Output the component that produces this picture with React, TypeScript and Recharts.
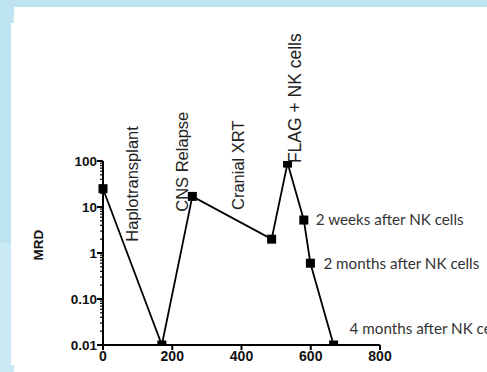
import { LineChart, Line, XAxis, YAxis, ReferenceDot, LabelList } from 'recharts';

// days since start vs. MRD (%)
const days = [0, 170, 258, 487, 533, 580, 599, 666];
const mrd = [25, 0.01, 17, 2, 90, 5.2, 0.6, 0.01];
const notes = ['', '', '', '', '', '2 weeks after NK cells', '2 months after NK cells', '4 months after NK cells'];

// treatment events, written vertically
const eventNames = ['Haplotransplant', 'CNS Relapse', 'Cranial XRT', 'FLAG + NK cells'];
const eventDays = [83, 227, 390, 555];
const eventMrd = [1.76, 7.9, 8.6, 90];

const xTicks = [0, 200, 400, 600, 800];
const yMajor = [0.01, 0.1, 1, 10, 100];
const yMajorLabels = ['0.01', '0.10', '1', '10', '100'];

const yTicks: number[] = [];
yMajor.forEach((m, i) => {
  yTicks.push(m);
  if (i < yMajor.length - 1) {
    for (let k = 2; k <= 9; k++) yTicks.push(+(m * k).toPrecision(3));
  }
});

const data = days.map((d, i) => ({ day: d, mrd: mrd[i], note: notes[i] }));

const axisFont = '"Liberation Sans", Arial, sans-serif';

const YTick = (props: any) => {
  const { x, y, payload } = props;
  const idx = yMajor.findIndex((m) => Math.abs(m - payload.value) < 1e-9);
  const major = idx >= 0;
  return (
    <g>
      <line x1={x} x2={x - (major ? 6 : 3)} y1={y} y2={y} stroke="#000" strokeWidth={major ? 2 : 1.2} />
      {major && (
        <text x={x - 6} y={y} dy="0.36em" textAnchor="end" fontFamily={axisFont} fontWeight="bold" fontSize={13.5} fill="#111">
          {yMajorLabels[idx]}
        </text>
      )}
    </g>
  );
};

const SquareDot = (props: any) => {
  const { cx, cy } = props;
  if (cx == null || cy == null) return null;
  return <rect x={cx - 4.5} y={cy - 4.5} width={9} height={9} fill="#000" />;
};

const noteOffset = [
  { dx: 12, dy: 0 },
  { dx: 12, dy: 0 },
  { dx: 12, dy: 0 },
  { dx: 12, dy: 0 },
  { dx: 12, dy: 0 },
  { dx: 12, dy: 0 },
  { dx: 13, dy: 0 },
  { dx: 16, dy: -16 },
];

const NoteLabel = (props: any) => {
  const { x, y, value, index } = props;
  if (!value) return null;
  const o = noteOffset[index];
  return (
    <text x={x + o.dx} y={y + o.dy} dy="0.35em" fontFamily="Lato, 'Open Sans', sans-serif" fontSize={15.2} fill="#333">
      {value}
    </text>
  );
};

const eventLabel = (text: string) => (props: any) => {
  const vb = props.viewBox || {};
  const cx = vb.x + (vb.width || 0) / 2;
  const cy = vb.y + (vb.height || 0) / 2;
  return (
    <text
      x={cx}
      y={cy}
      dy="0.36em"
      transform={`rotate(-90 ${cx} ${cy})`}
      textAnchor="start"
      fontFamily={axisFont}
      fontSize={text.startsWith('FLAG') ? 17.5 : 16.5}
      fill="#222"
    >
      {text}
    </text>
  );
};

export default function App() {
  return (
    <div style={{ position: 'absolute', left: 0, top: 0, width: 487, height: 372, background: '#BEE3F1', overflow: 'hidden' }}>
      <div style={{ position: 'absolute', left: 0, top: 243, width: 14, height: 129, background: '#C9EAF5' }} />
      <div style={{ position: 'absolute', left: 14, top: 7, right: 0, bottom: 0, background: '#fff' }} />
      <div style={{ position: 'absolute', left: 11, top: 23, width: 4, height: 342, background: '#fff' }} />
      <div style={{ position: 'absolute', left: 0, top: 0 }}>
        <LineChart width={487} height={372} data={data} margin={{ top: 161, right: 107, bottom: 7, left: 0 }}>
          <XAxis
            dataKey="day"
            type="number"
            domain={[0, 800]}
            ticks={xTicks}
            height={20}
            axisLine={{ stroke: '#000', strokeWidth: 2 }}
            tickLine={{ stroke: '#000', strokeWidth: 2 }}
            tickSize={5}
            tickMargin={1}
            tick={{ fontFamily: axisFont, fontWeight: 'bold', fontSize: 14, fill: '#111' }}
          />
          <YAxis
            scale="log"
            domain={[0.01, 100]}
            allowDataOverflow
            ticks={yTicks}
            interval={0}
            width={103}
            axisLine={{ stroke: '#000', strokeWidth: 2 }}
            tickLine={false}
            tickSize={0}
            tickMargin={0}
            tick={<YTick />}
            label={(p: any) => {
              const vb = p.viewBox;
              const cx = vb.x + 38;
              const cy = vb.y + vb.height / 2 - 8;
              return (
                <text x={cx} y={cy} transform={`rotate(-90 ${cx} ${cy})`} textAnchor="middle" dy="0.36em" fontFamily={axisFont} fontWeight="bold" fontSize={13.5} fill="#111">
                  MRD
                </text>
              );
            }}
          />
          <Line
            dataKey="mrd"
            stroke="#000"
            strokeWidth={1.8}
            dot={<SquareDot />}
            activeDot={false}
            isAnimationActive={false}
          >
            <LabelList dataKey="note" content={<NoteLabel />} />
          </Line>
          {eventNames.map((name, i) => (
            <ReferenceDot
              key={name}
              x={eventDays[i]}
              y={eventMrd[i]}
              r={0}
              fill="none"
              stroke="none"
              label={eventLabel(name)}
            />
          ))}
        </LineChart>
      </div>
    </div>
  );
}
